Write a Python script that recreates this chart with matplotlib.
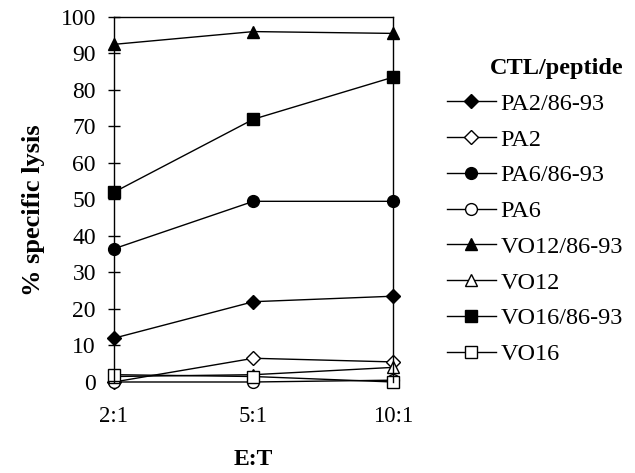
import numpy as np
import matplotlib.pyplot as plt

plt.rcParams["font.family"] = ["Liberation Serif", "DejaVu Serif"]

ratios = ["2:1", "5:1", "10:1"]
labels = ["PA2/86-93", "PA2", "PA6/86-93", "PA6",
          "VO12/86-93", "VO12", "VO16/86-93", "VO16"]
pa2_pep = [12, 22, 23.5]
pa2 = [0, 6.5, 5.5]
pa6_pep = [36.5, 49.5, 49.5]
pa6 = [0, 0, 0.5]
vo12_pep = [92.5, 96, 95.5]
vo12 = [1.5, 2, 4]
vo16_pep = [52, 72, 83.5]
vo16 = [2, 1.5, 0]
yticks = np.arange(0, 101, 10)

series = [pa2_pep, pa2, pa6_pep, pa6, vo12_pep, vo12, vo16_pep, vo16]
markers = ["D", "D", "o", "o", "^", "^", "s", "s"]
filled = [True, False] * 4
msizes = {"D": 7, "o": 8.5, "^": 9, "s": 9}

fig = plt.figure(figsize=(6.35, 4.73), dpi=100)
ax = fig.add_axes([0.1795, 0.1924, 0.4394, 0.7717])

x = np.arange(len(ratios))
for y, m, f, lab in zip(series, markers, filled, labels):
    ax.plot(x, y, c="k", lw=1, marker=m, ms=msizes[m],
            mfc="k" if f else "w", mec="k", mew=1,
            label=lab, clip_on=False)

ax.set_xlim(0, 2)
ax.set_ylim(0, 100)
ax.set_xticks(x)
ax.set_xticklabels(ratios)
ax.set_yticks(yticks)
ax.spines["bottom"].set_visible(False)
for s in ["left", "top", "right"]:
    ax.spines[s].set_linewidth(1)
ax.tick_params(axis="y", direction="inout", length=9, width=1,
               labelsize=17, pad=8.5)
ax.tick_params(axis="x", length=0, labelsize=16.5, pad=17)
ax.set_ylabel("% specific lysis", fontsize=19, fontweight="bold",
              labelpad=11, y=0.472)
ax.set_xlabel("E:T", fontsize=17, fontweight="bold", labelpad=16)

leg = ax.legend(loc="upper left", bbox_to_anchor=(0.704, 0.877),
                bbox_transform=fig.transFigure, frameon=False,
                fontsize=17.5, title="CTL/peptide",
                title_fontproperties={"weight": "bold", "size": 17.5},
                handlelength=2.0, handletextpad=0.2, labelspacing=0.565,
                borderpad=0, borderaxespad=0)
leg._legend_box.align = "right"

fig.savefig("out.png", dpi=100)
